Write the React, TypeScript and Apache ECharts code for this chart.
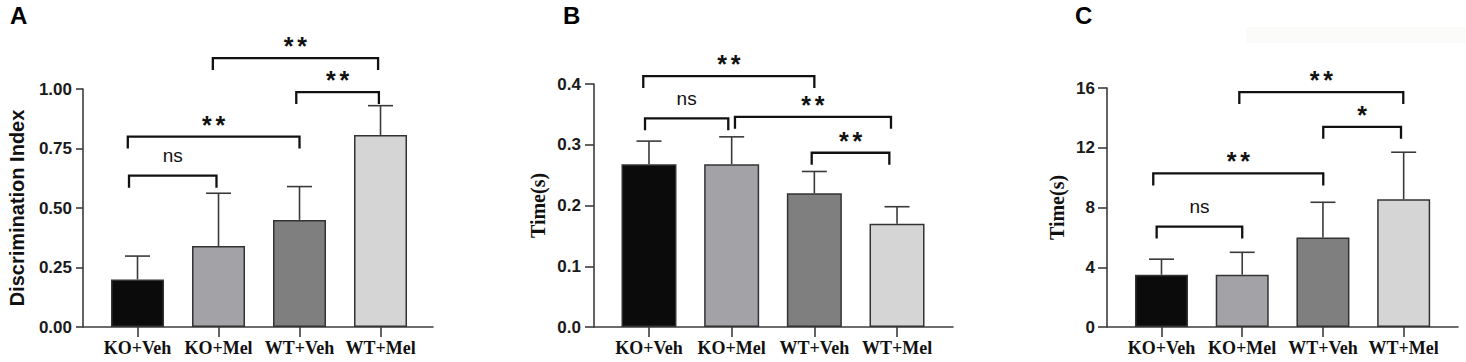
import React, { useEffect, useRef } from "react";
import * as echarts from "echarts";

// ---------- data ----------
const groups = ["KO+Veh", "KO+Mel", "WT+Veh", "WT+Mel"];
const groupPos = [1, 2, 3, 4];

// Panel A: Discrimination Index (mean, SD)
const meanA = [0.2, 0.34, 0.45, 0.807];
const sdA = [0.098, 0.222, 0.14, 0.123];
// Panel B: Time(s)
const meanB = [0.268, 0.268, 0.22, 0.17];
const sdB = [0.038, 0.045, 0.036, 0.028];
// Panel C: Time(s)
const meanC = [3.5, 3.5, 6.0, 8.55];
const sdC = [1.04, 1.5, 2.35, 3.15];

// significance brackets: [from x, to x, bracket height (data units), label]
const compA: [number, number, number, string][] = [
  [0.895, 1.975, 0.636, "ns"],
  [0.88, 3.0, 0.8, "**"],
  [2.96, 3.98, 0.987, "**"],
  [1.93, 3.97, 1.13, "**"],
];
const compB: [number, number, number, string][] = [
  [0.931, 3.0, 0.413, "**"],
  [0.952, 1.959, 0.3435, "ns"],
  [2.04, 3.927, 0.346, "**"],
  [2.968, 3.907, 0.2868, "**"],
];
const compC: [number, number, number, string][] = [
  [0.94, 2.0, 6.72, "ns"],
  [0.898, 3.004, 10.28, "**"],
  [3.004, 3.967, 13.4, "*"],
  [1.964, 3.995, 15.73, "**"],
];

// ---------- styles / layout ----------
const SANS = "'Liberation Sans', Arial, Helvetica, sans-serif";
const SERIF = "'Liberation Serif', 'Times New Roman', serif";
const barColors = ["#0b0b0b", "#a3a2a7", "#7f7f7f", "#d5d5d5"];
const AXIS = "#3c3c3c";

type Panel = {
  letter: string;
  letterX: number;
  mean: number[];
  sd: number[];
  comp: [number, number, number, string][];
  grid: { left: number; right: number; top: number; bottom: number };
  xMin: number;
  xMax: number;
  yMax: number;
  yInterval: number;
  decimals: number;
  name: string;
  nameFont: string;
  nameSize: number;
  nameGap: number;
  labelMargin: number;
  barWidth: number;
  yTick: number;
};

const panels: Panel[] = [
  {
    letter: "A", letterX: 10, mean: meanA, sd: sdA, comp: compA,
    grid: { left: 83, right: 1033, top: 89, bottom: 35 },
    xMin: 0.327, xMax: 4.648, yMax: 1, yInterval: 0.25, decimals: 2,
    name: "Discrimination Index", nameFont: SANS, nameSize: 20, nameGap: 56,
    labelMargin: 11, barWidth: 53, yTick: 7,
  },
  {
    letter: "B", letterX: 563, mean: meanB, sd: sdB, comp: compB,
    grid: { left: 594, right: 513, top: 84, bottom: 35 },
    xMin: 0.335, xMax: 4.677, yMax: 0.4, yInterval: 0.1, decimals: 1,
    name: "Time(s)", nameFont: SERIF, nameSize: 20, nameGap: 46,
    labelMargin: 13, barWidth: 55, yTick: 9,
  },
  {
    letter: "C", letterX: 1075, mean: meanC, sd: sdC, comp: compC,
    grid: { left: 1107, right: 8, top: 88, bottom: 35 },
    xMin: 0.325, xMax: 4.673, yMax: 16, yInterval: 4, decimals: 0,
    name: "Time(s)", nameFont: SERIF, nameSize: 20, nameGap: 40,
    labelMargin: 12, barWidth: 53, yTick: 9,
  },
];

function buildOption() {
  const grid: any[] = [];
  const xAxis: any[] = [];
  const yAxis: any[] = [];
  const series: any[] = [];
  const graphic: any[] = [];

  panels.forEach((p, i) => {
    grid.push({ ...p.grid, containLabel: false });
    xAxis.push({
      type: "value",
      gridIndex: i,
      min: p.xMin,
      max: p.xMax,
      splitLine: { show: false },
      axisLine: { show: true, onZero: false, lineStyle: { color: AXIS, width: 1.6 } },
      axisTick: {
        show: true,
        customValues: groupPos,
        length: 10,
        lineStyle: { color: AXIS, width: 1.6 },
      },
      axisLabel: {
        customValues: groupPos,
        margin: 12,
        formatter: (v: number) => groups[Math.round(v) - 1] ?? "",
        fontFamily: SERIF,
        fontWeight: "bold",
        fontSize: 18,
        color: "#111",
      },
    });
    yAxis.push({
      type: "value",
      gridIndex: i,
      min: 0,
      max: p.yMax,
      interval: p.yInterval,
      name: p.name,
      nameLocation: "middle",
      nameGap: p.nameGap,
      nameRotate: 90,
      nameTextStyle: {
        fontFamily: p.nameFont,
        fontWeight: "bold",
        fontSize: p.nameSize,
        color: "#111",
      },
      splitLine: { show: false },
      axisLine: { show: true, onZero: false, lineStyle: { color: AXIS, width: 1.6 } },
      axisTick: { show: true, length: p.yTick, lineStyle: { color: AXIS, width: 1.6 } },
      axisLabel: {
        margin: p.labelMargin,
        formatter: (v: number) => v.toFixed(p.decimals),
        fontFamily: SANS,
        fontWeight: "bold",
        fontSize: 17,
        color: "#1a1a1a",
      },
    });

    series.push({
      type: "bar",
      xAxisIndex: i,
      yAxisIndex: i,
      barWidth: p.barWidth,
      z: 2,
      data: groupPos.map((x, k) => ({
        value: [x, p.mean[k]],
        itemStyle: { color: barColors[k], borderColor: "#333", borderWidth: 1.5 },
      })),
    });

    // error bars (mean + SD, upward only)
    series.push({
      type: "custom",
      xAxisIndex: i,
      yAxisIndex: i,
      z: 3,
      clip: false,
      encode: { x: 0, y: 1 },
      data: groupPos.map((x, k) => [x, p.mean[k], p.sd[k]]),
      renderItem: (_params: any, api: any) => {
        const x = api.value(0);
        const m = api.value(1);
        const s = api.value(2);
        const p0 = api.coord([x, m]);
        const p1 = api.coord([x, m + s]);
        const st = { stroke: "#3a3a3a", lineWidth: 1.6 };
        return {
          type: "group",
          children: [
            { type: "line", shape: { x1: p0[0], y1: p0[1], x2: p1[0], y2: p1[1] }, style: st },
            { type: "line", shape: { x1: p1[0] - 12.5, y1: p1[1], x2: p1[0] + 12.5, y2: p1[1] }, style: st },
          ],
        };
      },
    });

    // significance brackets
    series.push({
      type: "custom",
      xAxisIndex: i,
      yAxisIndex: i,
      z: 4,
      clip: false,
      encode: { x: [0, 1], y: 2 },
      data: p.comp.map((c) => [c[0], c[1], c[2]]),
      renderItem: (params: any, api: any) => {
        const a = api.coord([api.value(0), api.value(2)]);
        const b = api.coord([api.value(1), api.value(2)]);
        const label = p.comp[params.dataIndex][3];
        const isNs = label === "ns";
        const cx = (a[0] + b[0]) / 2;
        const children: any[] = [
          {
            type: "polyline",
            shape: { points: [[a[0], a[1] + 12], [a[0], a[1]], [b[0], b[1]], [b[0], b[1] + 12]] },
            style: { stroke: "#111", lineWidth: 2.3, fill: null },
          },
        ];
        if (isNs) {
          children.push({
            type: "text",
            x: cx,
            y: a[1] - 20,
            style: {
              text: label,
              fill: "#111",
              font: `normal 19px ${SANS}`,
              align: "center",
              verticalAlign: "middle",
            },
          });
        } else {
          const n = label.length;
          const gap = 13.5;
          for (let k = 0; k < n; k++) {
            children.push({
              type: "text",
              x: cx + (k - (n - 1) / 2) * gap,
              y: a[1] - 12,
              style: {
                text: "*",
                fill: "#111",
                font: `bold 25px ${SANS}`,
                align: "center",
                verticalAlign: "middle",
              },
            });
          }
        }
        return { type: "group", children };
      },
    });

    graphic.push({
      type: "text",
      left: p.letterX,
      top: 3,
      style: { text: p.letter, font: `bold 24px ${SANS}`, fill: "#000" },
    });
  });

  graphic.push({
    type: "rect",
    left: 1246,
    top: 27,
    shape: { width: 220, height: 16 },
    style: { fill: "#fbfbf9" },
    z: -1,
  });

  return {
    animation: false,
    backgroundColor: "#ffffff",
    grid,
    xAxis,
    yAxis,
    series,
    graphic,
  };
}

export default function App() {
  const ref = useRef<HTMLDivElement>(null);
  useEffect(() => {
    if (!ref.current) return;
    const chart = echarts.init(ref.current, undefined, { renderer: "svg" });
    chart.setOption(buildOption() as any);
    return () => chart.dispose();
  }, []);
  return (
    <div
      ref={ref}
      style={{ position: "absolute", left: 0, top: 0, width: 1466, height: 362, background: "#fff" }}
    />
  );
}
